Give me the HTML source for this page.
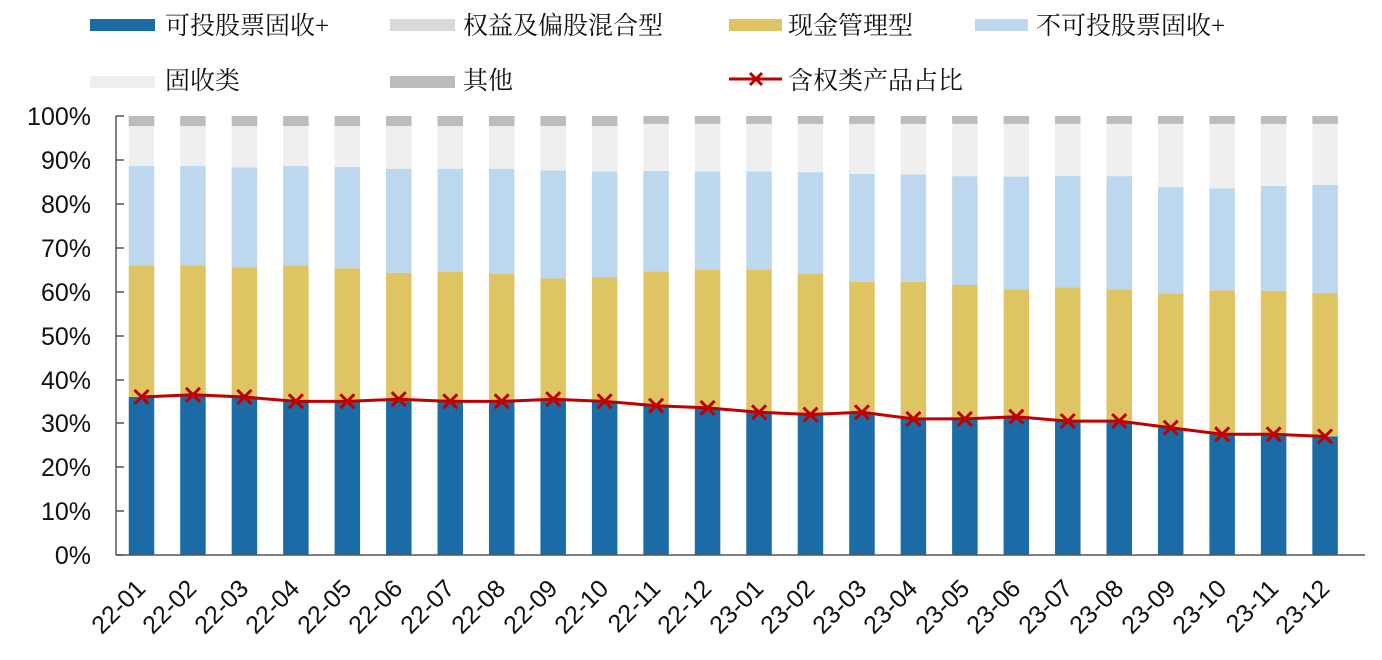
<!DOCTYPE html>
<html><head><meta charset="utf-8"><style>
html,body{margin:0;padding:0;background:#fff;width:1382px;height:660px;overflow:hidden}
svg{display:block}
.lg{font-family:"Liberation Serif","Noto Serif CJK SC",serif;font-size:25px;fill:#111}
.ax{font-family:"Liberation Sans",Arial,sans-serif;font-size:25px;fill:#111}
</style></head><body>
<svg id="s" width="1382" height="660" xmlns="http://www.w3.org/2000/svg">
<g id="bars"></g>
<g stroke="#555" stroke-width="1.5" fill="none">
<line x1="116" y1="116" x2="116" y2="555"/>
<line x1="116" y1="555" x2="1365" y2="555"/>
<path d="M116 116h8M116 160h8M116 204h8M116 248h8M116 292h8M116 336h8M116 380h8M116 423h8M116 467h8M116 511h8M116 555h8"/>
</g>
<g id="line"></g>
<g class="ax" text-anchor="end">
<text x="91" y="125">100%</text><text x="91" y="169">90%</text><text x="91" y="213">80%</text><text x="91" y="257">70%</text><text x="91" y="301">60%</text><text x="91" y="345">50%</text><text x="91" y="389">40%</text><text x="91" y="432">30%</text><text x="91" y="476">20%</text><text x="91" y="520">10%</text><text x="91" y="564">0%</text>
</g>
<g class="ax" text-anchor="end" id="xl" transform="translate(-3,10)">
<text transform="translate(150,580) rotate(-45)">22-01</text>
<text transform="translate(201,580) rotate(-45)">22-02</text>
<text transform="translate(253,580) rotate(-45)">22-03</text>
<text transform="translate(304,580) rotate(-45)">22-04</text>
<text transform="translate(356,580) rotate(-45)">22-05</text>
<text transform="translate(407,580) rotate(-45)">22-06</text>
<text transform="translate(459,580) rotate(-45)">22-07</text>
<text transform="translate(510,580) rotate(-45)">22-08</text>
<text transform="translate(562,580) rotate(-45)">22-09</text>
<text transform="translate(613,580) rotate(-45)">22-10</text>
<text transform="translate(665,580) rotate(-45)">22-11</text>
<text transform="translate(716,580) rotate(-45)">22-12</text>
<text transform="translate(768,580) rotate(-45)">23-01</text>
<text transform="translate(819,580) rotate(-45)">23-02</text>
<text transform="translate(871,580) rotate(-45)">23-03</text>
<text transform="translate(922,580) rotate(-45)">23-04</text>
<text transform="translate(974,580) rotate(-45)">23-05</text>
<text transform="translate(1025,580) rotate(-45)">23-06</text>
<text transform="translate(1077,580) rotate(-45)">23-07</text>
<text transform="translate(1128,580) rotate(-45)">23-08</text>
<text transform="translate(1180,580) rotate(-45)">23-09</text>
<text transform="translate(1231,580) rotate(-45)">23-10</text>
<text transform="translate(1283,580) rotate(-45)">23-11</text>
<text transform="translate(1334,580) rotate(-45)">23-12</text>
</g>
<g>
<rect x="90" y="19" width="65" height="12" fill="#1a6ba6"/>
<text class="lg" x="165" y="34">可投股票固收+</text>
<rect x="390" y="19" width="65" height="12" fill="#d9d9d9"/>
<text class="lg" x="463" y="34">权益及偏股混合型</text>
<rect x="729" y="19" width="53" height="12" fill="#dfc463"/>
<text class="lg" x="788" y="34">现金管理型</text>
<rect x="975" y="19" width="53" height="12" fill="#bdd7ee"/>
<text class="lg" x="1036" y="34">不可投股票固收+</text>
<rect x="90" y="76" width="65" height="12" fill="#efefef"/>
<text class="lg" x="165" y="89">固收类</text>
<rect x="390" y="76" width="65" height="12" fill="#bcbcbc"/>
<text class="lg" x="463" y="89">其他</text>
<line x1="729" y1="79" x2="782" y2="79" stroke="#c00000" stroke-width="3"/>
<path d="M750 73l12 12M762 73l-12 12" stroke="#c00000" stroke-width="3"/>
<text class="lg" x="788" y="89">含权类产品占比</text>
</g>
</svg>
<script>
var d=[36,36.5,36,35,35,35.5,35,35,35.5,35,34,33.5,32.5,32,32.5,31,31,31.5,30.5,30.5,29,27.5,27.5,27];
var y2=[66,66,65.5,66,65.3,64.3,64.5,64,63,63.3,64.6,65,65,64,62.2,62.2,61.5,60.5,61,60.5,59.6,60.3,60.2,59.7];
var b3=[88.6,88.6,88.3,88.6,88.4,88,88,88,87.6,87.4,87.5,87.4,87.4,87.2,86.8,86.7,86.3,86.2,86.4,86.3,83.8,83.5,84.1,84.3];
function Y(p){return 555-4.39*p}
var ns="http://www.w3.org/2000/svg",g=document.getElementById('bars'),L=document.getElementById('line');
function r(x,a,b,c){var e=document.createElementNS(ns,'rect');e.setAttribute('x',x);e.setAttribute('y',Y(b));e.setAttribute('width',25.5);e.setAttribute('height',Y(a)-Y(b));e.setAttribute('fill',c);g.appendChild(e);}
var pts=[],xs="";
for(var i=0;i<24;i++){var cx=141.5+51.46*i,x=cx-12.75;var gt=i<10?97.7:98.2;
r(x,0,d[i],'#1a6ba6');r(x,d[i],y2[i],'#dfc463');r(x,y2[i],b3[i],'#bdd7ee');r(x,b3[i],gt,'#efefef');r(x,gt,100,'#bcbcbc');
var yy=Y(d[i]);pts.push(cx.toFixed(1)+','+yy.toFixed(1));xs+='M'+(cx-7)+' '+(yy-7)+'l14 14M'+(cx+7)+' '+(yy-7)+'l-14 14';}
L.innerHTML='<polyline points="'+pts.join(' ')+'" fill="none" stroke="#c00000" stroke-width="3"/><path d="'+xs+'" stroke="#c00000" stroke-width="3"/>';
</script>
</body></html>
